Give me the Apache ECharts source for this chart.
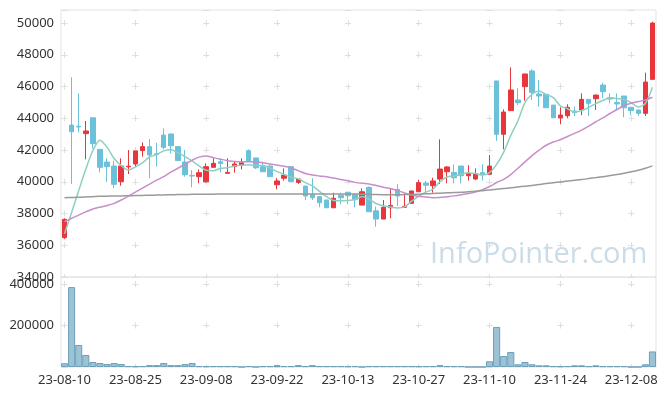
<!DOCTYPE html>
<html><head><meta charset="utf-8">
<script src="https://cdn.jsdelivr.net/npm/echarts@6/dist/echarts.min.js"></script>
<style>html,body{margin:0;padding:0;background:#fff}#c{width:665px;height:396px}</style>
</head><body><div id="c"></div>
<script>
const dates = ['23-08-10','23-08-11','23-08-14','23-08-16','23-08-17','23-08-18','23-08-21','23-08-22','23-08-23','23-08-24',
'23-08-25','23-08-28','23-08-29','23-08-30','23-08-31','23-09-01','23-09-04','23-09-05','23-09-06','23-09-07',
'23-09-08','23-09-11','23-09-12','23-09-13','23-09-14','23-09-15','23-09-18','23-09-19','23-09-20','23-09-21',
'23-09-22','23-09-25','23-09-26','23-09-27','23-10-04','23-10-05','23-10-06','23-10-10','23-10-11','23-10-12',
'23-10-13','23-10-16','23-10-17','23-10-18','23-10-19','23-10-20','23-10-23','23-10-24','23-10-25','23-10-26',
'23-10-27','23-10-30','23-10-31','23-11-01','23-11-02','23-11-03','23-11-06','23-11-07','23-11-08','23-11-09',
'23-11-10','23-11-13','23-11-14','23-11-15','23-11-16','23-11-17','23-11-20','23-11-21','23-11-22','23-11-23',
'23-11-24','23-11-27','23-11-28','23-11-29','23-11-30','23-12-01','23-12-04','23-12-05','23-12-06','23-12-07',
'23-12-08','23-12-11','23-12-12','23-12-13'];

const openP = [36480,43570,43500,43030,44030,42040,41240,40990,40000,40940,
41120,41960,42210,41760,42940,43010,42210,41240,40400,40320,
40000,40910,41260,40530,40950,41050,41960,41500,40950,40990,
39810,40220,40950,39960,39730,39200,39060,38850,38360,39150,
39340,39210,38530,39650,38170,37650,38360,39520,38390,38640,
39370,39920,39750,40170,40630,40590,40990,40380,40170,40570,
40470,46350,42990,44480,45150,45990,46980,45530,45510,44830,
44030,44160,44460,44520,45190,45230,46090,45300,45000,45400,
44690,44520,44310,46450];

const closeP = [37630,43150,43450,43200,42400,40910,40950,39840,40990,40980,
41940,42210,41680,41720,42170,42270,41330,40440,40360,40570,
40950,41160,41140,40590,41120,41200,41310,40880,40630,40320,
40050,40420,40000,40170,39100,38990,38680,38360,38960,38990,
39120,38890,39370,38110,37650,38390,38510,39100,38450,39420,
39940,39780,40050,40800,40930,40250,40380,40510,40510,40470,
40990,42990,44390,45780,44980,46790,45630,45400,44660,44030,
44200,44690,44350,45190,44940,45460,45670,45210,44900,44660,
44480,44310,46280,50000];

const lowP = [36400,39860,43110,41410,42100,40590,40000,39590,39750,40490,
40950,41580,40220,40950,42040,41790,41330,40320,39650,39900,
39950,40900,40590,40530,40570,40780,41300,40800,40630,40300,
39520,40070,40000,39860,38850,38850,38390,38360,38360,38600,
38600,38390,38530,38110,37170,37650,37700,38470,38390,38640,
39370,39270,39310,39860,39900,39900,39900,40070,40110,40070,
40470,42570,42040,44480,44830,45100,45150,44730,44660,44030,
43620,44000,44140,44190,44140,44520,45260,44940,44520,44060,
44190,44140,44140,46450];

const highP = [37700,46580,45570,43830,44030,42040,41480,41330,41480,42000,
41940,42480,42690,42460,43370,43010,42250,42000,40740,40780,
41160,41480,41480,41480,41310,41480,42040,41500,41260,41050,
40220,40840,40950,40200,39730,40220,39100,38870,39310,39310,
39340,39250,39590,39700,38430,38850,39590,39860,39270,39420,
40110,40050,40250,42670,40990,41100,40990,41050,40840,41100,
41680,46350,44560,47210,45890,46800,47080,46410,45510,44830,
44690,44880,44730,45570,45200,45500,46240,45570,45570,45400,
44700,44550,46870,50080];

const volume = [18000,385000,106000,58000,24000,19000,14500,19000,14500,4000,
4000,4000,9000,9000,19000,9000,9000,14000,19000,4000,
4000,4000,4000,4000,4000,300,4000,300,4000,4000,
9000,4000,4000,9000,4000,9000,4000,4000,4000,4000,
4000,4000,300,4000,4000,4000,4000,4000,4000,4000,
4000,4000,4000,9000,4000,4000,4000,300,300,300,
27500,193000,53000,72000,13000,24000,13000,8000,8000,4000,
4000,4000,8000,8000,4000,8000,4000,4000,4000,4000,
300,300,13000,75000];

const ma5 = [36730,38060,39450,40790,41966,42622,42182,41460,41018,40734,
40940,41192,41560,41706,41944,42010,41834,41586,41314,40994,
40730,40696,40836,40882,40992,41042,41072,41020,41028,40868,
40638,40460,40284,40192,39948,39736,39388,39060,38818,38796,
38822,38864,39066,38896,38628,38482,38406,38352,38420,38774,
39084,39338,39528,39998,40300,40362,40482,40574,40516,40424,
40572,41094,41870,42924,43826,44986,45514,45716,45492,45302,
44784,44596,44386,44492,44674,44926,45122,45294,45236,45180,
44984,44712,44926,45946];

const ma20 = [37480,37700,37900,38100,38280,38400,38500,38640,38850,39100,
39350,39600,39850,40100,40320,40600,40850,41100,41350,41550,
41620,41520,41420,41330,41270,41250,41260,41240,41200,41120,
41050,40980,40870,40700,40520,40420,40360,40310,40230,40140,
40060,39960,39900,39860,39760,39660,39580,39450,39300,39180,
39080,39040,39000,39010,39060,39110,39180,39260,39360,39500,
39700,39950,40150,40450,40850,41250,41650,41990,42300,42500,
42650,42850,43050,43250,43500,43780,44020,44300,44550,44800,
44950,45050,45150,45320];

const ma60 = [39000,39010,39020,39040,39060,39080,39090,39100,39110,39120,
39130,39140,39150,39160,39170,39180,39190,39200,39205,39210,
39215,39220,39225,39230,39230,39230,39230,39230,39230,39230,
39230,39230,39230,39230,39230,39230,39230,39230,39230,39230,
39230,39225,39220,39210,39190,39180,39175,39180,39190,39200,
39220,39240,39260,39280,39300,39320,39340,39370,39400,39440,
39480,39520,39570,39620,39670,39720,39770,39830,39890,39940,
39990,40040,40090,40140,40200,40260,40320,40390,40460,40540,
40630,40730,40850,41000];

const priceMin = 34000, priceMax = 50819, priceStep = 2000;
const volMin = 0, volMax = 433735, volStep = 200000;
const labelEvery = 10;

// layout (styles only)
const GL = 61, GR = 9, W = 665 - GL - GR;
const pTop = 10, pH = 267, vTop = 277, vH = 90;
const catW = W / dates.length;
const xPeriod = catW * labelEvery;
const yPeriodP = pH * priceStep / (priceMax - priceMin);
const yPeriodV = vH * volStep / (volMax - volMin);
const gridCol = '#dedede';
const dashLen = 6;

const candleData = dates.map((d, i) => [openP[i], closeP[i], lowP[i], highP[i]]);

function hSplit() {
  return { show: true, lineStyle: { color: gridCol, width: 1, type: [dashLen, xPeriod - dashLen], dashOffset: xPeriod - (catW / 2 - dashLen / 2) } };
}
function vSplit(period, firstCenter) {
  return { show: true, interval: labelEvery - 1, alignWithLabel: true,
    lineStyle: { color: gridCol, width: 1, type: [dashLen, period - dashLen], dashOffset: period - (firstCenter - dashLen / 2) } };
}
const plain = v => String(v);

const font = '"Noto Sans", "DejaVu Sans", sans-serif';
const chart = echarts.init(document.getElementById('c'), null, { renderer: 'canvas' });
chart.setOption({
  animation: false,
  backgroundColor: '#ffffff',
  graphic: [{
    type: 'text', left: 430, top: 240, z: 0,
    style: { text: 'InfoPointer.com', font: '29px "Open Sans", sans-serif', fill: '#c9dce8' }
  }],
  grid: [
    { left: GL, right: GR, top: pTop, height: pH, show: true, borderColor: '#e3e3e3', borderWidth: 1, outerBoundsMode: 'none', containLabel: false },
    { left: GL, right: GR, top: vTop, height: vH, show: true, borderColor: '#e3e3e3', borderWidth: 1, outerBoundsMode: 'none', containLabel: false }
  ],
  xAxis: [
    { type: 'category', gridIndex: 0, data: dates, boundaryGap: true,
      axisLine: { show: false }, axisTick: { show: false }, axisLabel: { show: false },
      splitLine: vSplit(yPeriodP, (priceMax - 50000) / (priceMax - priceMin) * pH) },
    { type: 'category', gridIndex: 1, data: dates, boundaryGap: true,
      axisLine: { show: false }, axisTick: { show: false },
      axisLabel: { interval: labelEvery - 1, fontSize: 13, color: '#333', fontFamily: font, margin: 7 },
      splitLine: vSplit(yPeriodV, vH - 400000 / volMax * vH) }
  ],
  yAxis: [
    { type: 'value', gridIndex: 0, min: priceMin, max: priceMax, interval: priceStep,
      axisLine: { show: false }, axisTick: { show: false },
      axisLabel: { fontSize: 13, color: '#333', fontFamily: font, margin: 7, showMaxLabel: false, hideOverlap: false, formatter: plain },
      splitLine: hSplit() },
    { type: 'value', gridIndex: 1, min: volMin, max: volMax, interval: volStep,
      axisLine: { show: false }, axisTick: { show: false },
      axisLabel: { fontSize: 13, color: '#333', fontFamily: font, margin: 7, showMaxLabel: false, showMinLabel: false, hideOverlap: false, formatter: plain },
      splitLine: hSplit() }
  ],
  series: [
    { type: 'candlestick', xAxisIndex: 0, yAxisIndex: 0, data: candleData, barWidth: 5,
      itemStyle: { color: '#e8363d', color0: '#6bc1d9', borderColor: '#e8363d', borderColor0: '#6bc1d9', borderWidth: 1 } },
    { type: 'line', name: 'MA5', xAxisIndex: 0, yAxisIndex: 0, data: ma5, smooth: 0.3, symbol: 'none',
      lineStyle: { color: '#8ecfc2', width: 1.5 } },
    { type: 'line', name: 'MA20', xAxisIndex: 0, yAxisIndex: 0, data: ma20, smooth: 0.3, symbol: 'none',
      lineStyle: { color: '#c98dc9', width: 1.5 } },
    { type: 'line', name: 'MA60', xAxisIndex: 0, yAxisIndex: 0, data: ma60, smooth: 0.3, symbol: 'none',
      lineStyle: { color: '#9a9a9a', width: 1.5 } },
    { type: 'bar', xAxisIndex: 1, yAxisIndex: 1, data: volume, barCategoryGap: '0%',
      itemStyle: { color: '#9cc3d5', borderColor: '#6e9fb8', borderWidth: 1 } }
  ]
});
</script>
</body></html>
